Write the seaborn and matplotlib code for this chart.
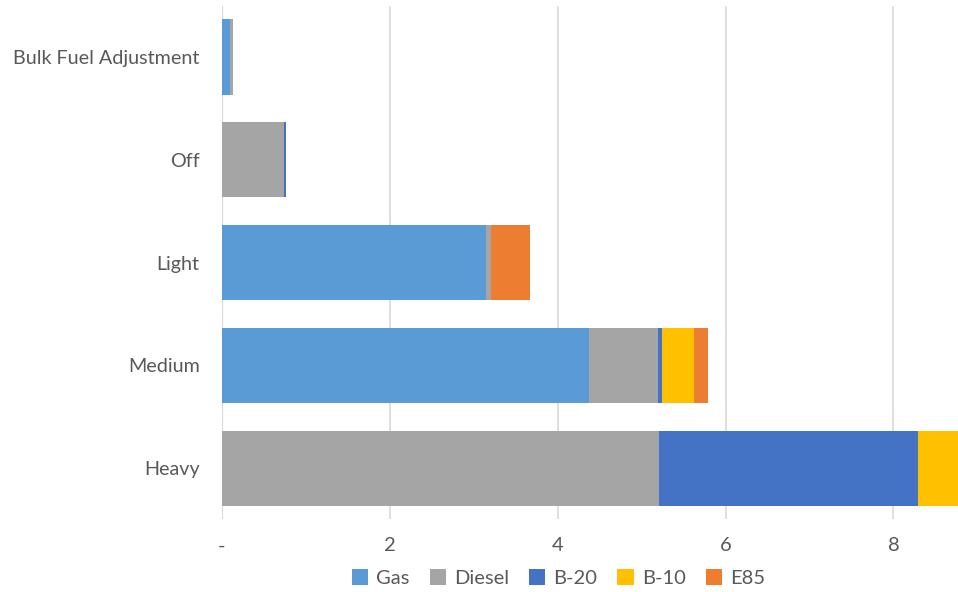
import matplotlib
matplotlib.use("Agg")
import matplotlib.pyplot as plt
import seaborn as sns
import pandas as pd
import numpy as np
from matplotlib.patches import Patch

categories = ["Bulk Fuel Adjustment", "Off", "Light", "Medium", "Heavy"]
series_names = ["Gas", "Diesel", "B-20", "B-10", "E85"]
gas    = [0.09, 0.00, 3.15, 4.37, 0.00]
diesel = [0.04, 0.74, 0.06, 0.82, 5.21]
b20    = [0.00, 0.02, 0.00, 0.05, 3.08]
b10    = [0.005, 0.00, 0.00, 0.39, 0.50]
e85    = [0.00, 0.00, 0.46, 0.16, 0.00]
colors = ["#5B9BD5", "#A5A5A5", "#4472C4", "#FFC000", "#ED7D31"]
xticks = [0, 2, 4, 6, 8]
xticklabels = ["-", "2", "4", "6", "8"]

sns.set_theme(style="white")
plt.rcParams['font.family'] = ['Lato', 'DejaVu Sans']

series = [gas, diesel, b20, b10, e85]
cum = np.cumsum(np.array(series), axis=0)

fig = plt.figure(figsize=(9.58, 5.92), dpi=100)
ax = fig.add_axes([0.2317, 0.1226, 1.0 - 0.2317, 0.9905 - 0.1226])

# draw cumulative totals from the outermost series inward
for i in range(len(series) - 1, -1, -1):
    df = pd.DataFrame({"category": categories, "value": cum[i]})
    sns.barplot(data=df, x="value", y="category", orient="h", color=colors[i],
                saturation=1, width=0.73, ax=ax, linewidth=0, zorder=2)

ax.set_xlim(0, 8.77)
ax.set_ylim(4.5, -0.5)
ax.set_xticks(xticks)
ax.set_xticklabels(xticklabels)
ax.set_xlabel("")
ax.set_ylabel("")
ax.grid(axis="x", color="#D9D9D9", linewidth=1.2, zorder=0)
ax.set_axisbelow(True)
for s in ax.spines.values():
    s.set_visible(False)
ax.axvline(0, color="#D9D9D9", linewidth=1.5, zorder=1)
ax.tick_params(axis="x", length=0, pad=13, labelsize=14.5, labelcolor="#595959")
ax.tick_params(axis="y", length=0, pad=16, labelsize=14.2, labelcolor="#595959")

handles = [Patch(facecolor=c, edgecolor="none", label=n) for c, n in zip(colors, series_names)]
fig.legend(handles=handles, loc="lower center", bbox_to_anchor=(0.583, -0.022), ncol=5,
           frameon=False, fontsize=14.5, handlelength=0.8, handleheight=0.8,
           handletextpad=0.4, columnspacing=1.0, labelcolor="#595959")

fig.savefig("out.png", dpi=100)
